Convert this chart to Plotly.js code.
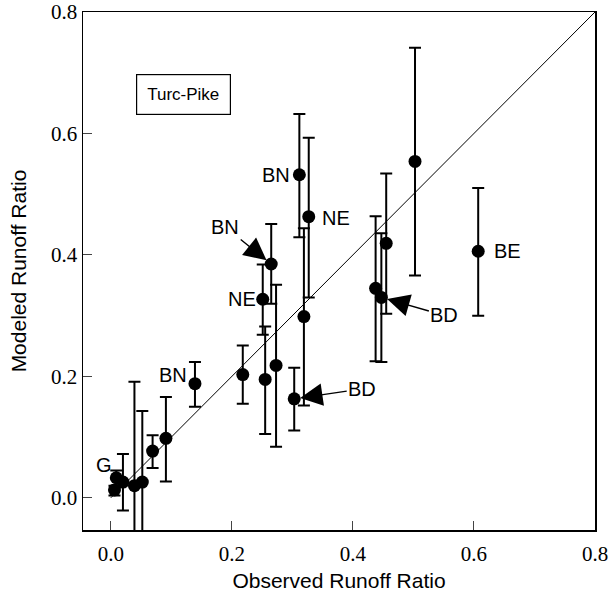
<!DOCTYPE html>
<html>
<head>
<meta charset="utf-8">
<script src="https://cdn.plot.ly/plotly-3.0.1.min.js"></script>
<style>html,body{margin:0;padding:0;background:#fff;}#chart{width:611px;height:596px;}</style>
</head>
<body>
<div id="chart"></div>
<script>
// Observed vs modeled runoff ratio (Turc-Pike)
const observed = [0.006, 0.009, 0.020, 0.039, 0.052, 0.069, 0.091, 0.139, 0.218, 0.251, 0.255, 0.265, 0.273, 0.303, 0.3115, 0.319, 0.327, 0.4375, 0.447, 0.455, 0.5026, 0.607];
const modeled  = [0.013, 0.033, 0.026, 0.020, 0.026, 0.077, 0.098, 0.188, 0.203, 0.327, 0.195, 0.385, 0.218, 0.163, 0.532, 0.2985, 0.463, 0.345, 0.330, 0.419, 0.554, 0.406];
const upperBound = [0.020, 0.045, 0.072, 0.191, 0.143, 0.103, 0.166, 0.2235, 0.251, 0.384, 0.282, 0.451, 0.351, 0.214, 0.632, 0.444, 0.593, 0.4635, 0.4355, 0.534, 0.741, 0.510];
const lowerBound = [0.004, 0.020, -0.021, -0.10, -0.10, 0.049, 0.027, 0.150, 0.155, 0.2685, 0.105, 0.3195, 0.084, 0.111, 0.429, 0.152, 0.330, 0.2247, 0.2235, 0.303, 0.366, 0.300];
const oneToOne = [0, 0.8];

// point labels: index into the arrays above and text
const labelIndex = [1, 7, 14, 16, 9, 21, 11, 18, 13];
const labelText  = ["G", "BN", "BN", "NE", "NE", "BE", "BN", "BD", "BD"];

const errPlus = modeled.map((v, i) => upperBound[i] - v);
const errMinus = modeled.map((v, i) => v - lowerBound[i]);

const traces = [
  {x: oneToOne, y: oneToOne, mode: 'lines', line: {color: '#000', width: 1}, hoverinfo: 'skip', showlegend: false},
  {x: observed, y: modeled, mode: 'markers', type: 'scatter', showlegend: false,
   marker: {color: '#000', size: 13},
   error_y: {type: 'data', symmetric: false, array: errPlus, arrayminus: errMinus, color: '#000', thickness: 2, width: 6}}
];

// label offsets in pixels (styling)
const labelStyle = [
  {xshift: -12, yshift: 13},
  {xshift: -22, yshift: 9},
  {xshift: -23, yshift: 0},
  {xshift: 27, yshift: -1},
  {xshift: -21, yshift: 0},
  {xshift: 29, yshift: 0},
  {arrow: true, ax: -46, ay: -37},
  {arrow: true, ax: 63, ay: 18},
  {arrow: true, ax: 68, ay: -10}
];
const labelFont = {family: 'Liberation Sans, Arial, sans-serif', size: 20, color: '#000'};
const annotations = labelIndex.map((idx, k) => {
  const s = labelStyle[k];
  if (s.arrow) {
    return {x: observed[idx], y: modeled[idx], xref: 'x', yref: 'y', text: labelText[k], font: labelFont,
      showarrow: true, ax: s.ax, ay: s.ay, arrowhead: 2, arrowsize: 3.2, arrowwidth: 1.4, arrowcolor: '#000', standoff: 6};
  }
  return {x: observed[idx], y: modeled[idx], xref: 'x', yref: 'y', text: labelText[k], font: labelFont,
    showarrow: false, xshift: s.xshift, yshift: s.yshift};
});
annotations.push({xref: 'paper', yref: 'paper', x: 0.197, y: 0.841, xanchor: 'center', yanchor: 'middle',
  text: 'Turc-Pike', showarrow: false, font: {family: 'Liberation Sans, Arial, sans-serif', size: 17, color: '#000'},
  bordercolor: '#000', borderwidth: 1.2, borderpad: 10, bgcolor: '#fff'});

const tickFont = {family: 'Liberation Serif, Times New Roman, serif', size: 21, color: '#000'};
const titleFont = {family: 'Liberation Sans, Arial, sans-serif', size: 21, color: '#000'};

const layout = {
  width: 611, height: 596,
  margin: {l: 83, r: 16, t: 12, b: 66},
  paper_bgcolor: '#fff', plot_bgcolor: '#fff',
  xaxis: {range: [-0.046, 0.8], dtick: 0.2, tick0: 0, tickformat: '.1f', ticks: 'inside', ticklen: 9, tickwidth: 1,
    showline: true, linecolor: '#000', linewidth: 1.5, mirror: true, showgrid: false, zeroline: false,
    ticklabelstandoff: 4,
    tickfont: tickFont, title: {text: 'Observed Runoff Ratio', font: titleFont, standoff: 8}},
  yaxis: {range: [-0.053, 0.8], dtick: 0.2, tick0: 0, tickformat: '.1f', ticks: 'inside', ticklen: 9, tickwidth: 1,
    showline: true, linecolor: '#000', linewidth: 1.5, mirror: true, showgrid: false, zeroline: false,
    tickfont: tickFont, title: {text: 'Modeled Runoff Ratio', font: titleFont, standoff: 18}},
  annotations: annotations
};

Plotly.newPlot('chart', traces, layout, {staticPlot: true, displayModeBar: false});
</script>
</body>
</html>
